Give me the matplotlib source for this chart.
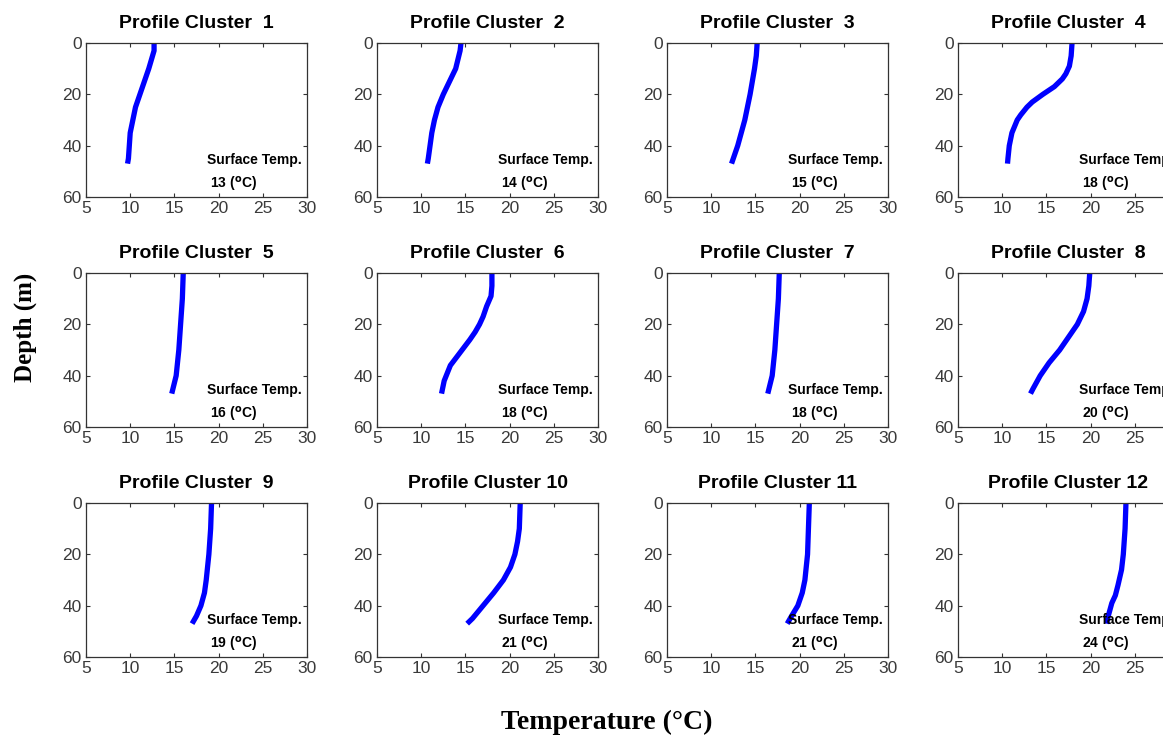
import matplotlib
matplotlib.use("Agg")
import matplotlib.pyplot as plt

plt.rcParams["font.family"] = ["Liberation Sans", "DejaVu Sans"]

# depth (m) and temperature (degC)
depths = {
    1: [0, 3, 10, 15, 20, 25, 30, 35, 40, 45, 47],
    2: [0, 3, 10, 15, 20, 25, 30, 35, 40, 45, 47],
    3: [0, 5, 10, 20, 30, 40, 47],
    4: [0, 5, 9, 12, 14, 17, 20, 23, 25, 28, 30, 35, 40, 45, 47],
    5: [0, 10, 20, 30, 40, 47],
    6: [0, 5, 9, 13, 17, 20, 23, 26, 31, 36, 42, 47],
    7: [0, 10, 20, 30, 40, 47],
    8: [0, 5, 10, 15, 20, 25, 30, 35, 40, 45, 47],
    9: [0, 10, 20, 30, 35, 40, 44, 47],
    10: [0, 10, 15, 20, 25, 30, 35, 40, 45, 47],
    11: [0, 10, 20, 30, 35, 40, 44, 47],
    12: [0, 10, 20, 26, 32, 36, 39, 44, 47],
}
temps = {
    1: [12.7, 12.7, 12.1, 11.6, 11.1, 10.6, 10.3, 10.0, 9.9, 9.8, 9.7],
    2: [14.5, 14.4, 13.9, 13.2, 12.5, 11.9, 11.5, 11.2, 11.0, 10.8, 10.7],
    3: [15.2, 15.1, 14.9, 14.4, 13.8, 13.0, 12.3],
    4: [17.9, 17.8, 17.6, 17.2, 16.8, 15.9, 14.6, 13.4, 12.8, 12.1, 11.7, 11.1, 10.8, 10.65, 10.6],
    5: [16.0, 15.9, 15.7, 15.5, 15.2, 14.7],
    6: [18.0, 18.0, 17.9, 17.4, 17.0, 16.6, 16.1, 15.5, 14.4, 13.3, 12.6, 12.3],
    7: [17.7, 17.6, 17.4, 17.2, 16.9, 16.4],
    8: [19.9, 19.8, 19.6, 19.2, 18.5, 17.5, 16.5, 15.3, 14.3, 13.5, 13.2],
    9: [19.2, 19.1, 18.9, 18.6, 18.4, 18.0, 17.5, 17.0],
    10: [21.2, 21.1, 20.9, 20.6, 20.1, 19.3, 18.2, 17.0, 15.8, 15.2],
    11: [21.1, 21.0, 20.9, 20.6, 20.3, 19.8, 19.1, 18.6],
    12: [24.0, 23.9, 23.7, 23.5, 23.1, 22.8, 22.4, 22.0, 21.8],
}
surface_temp = {1: 13, 2: 14, 3: 15, 4: 18, 5: 16, 6: 18,
                7: 18, 8: 20, 9: 19, 10: 21, 11: 21, 12: 24}

xticks = [5, 10, 15, 20, 25, 30]
yticks = [0, 20, 40, 60]

W, H = 1163, 751
fig = plt.figure(figsize=(W / 100, H / 100), dpi=100)

lefts = [86, 377, 667, 958]
tops = [43, 273, 503]
aw, ah = 221, 154

for n in range(1, 13):
    r = (n - 1) // 4
    c = (n - 1) % 4
    ax = fig.add_axes([lefts[c] / W, (H - tops[r] - ah) / H, aw / W, ah / H])
    ax.plot(temps[n], depths[n], color="#0000ff", lw=3.8, solid_capstyle="butt",
            solid_joinstyle="round")
    ax.set_xlim(5, 30)
    ax.set_ylim(60, 0)
    ax.set_xticks(xticks)
    ax.set_yticks(yticks)
    ax.tick_params(direction="in", length=3, top=True, right=True,
                   labelsize=12.5, labelcolor="#3a3a3a", color="#333333", pad=3)
    for s in ax.spines.values():
        s.set_color("#333333")
        s.set_linewidth(0.9)
    ax.set_title(f"Profile Cluster {n:2d}", fontsize=14, fontweight="bold", pad=11)
    ax.text(18.7, 45.5, "Surface Temp.", fontsize=10, fontweight="bold",
            family=["Liberation Sans Narrow", "Liberation Sans"], va="center")
    ax.text(19.0, 55, f"{surface_temp[n]} ($^{{\\bf o}}$C)", fontsize=10,
            fontweight="bold", family=["Liberation Sans Narrow", "Liberation Sans"],
            va="center")

fig.text(25 / W, 1 - 327 / H, "Depth (m)", rotation=90, ha="center", va="center",
         fontsize=18, fontweight="bold", family=["Liberation Serif"])
fig.text(607 / W, 1 - 722 / H, "Temperature (°C)", ha="center", va="center",
         fontsize=20, fontweight="bold", family=["Liberation Serif"])

fig.savefig("out.png", dpi=100)
